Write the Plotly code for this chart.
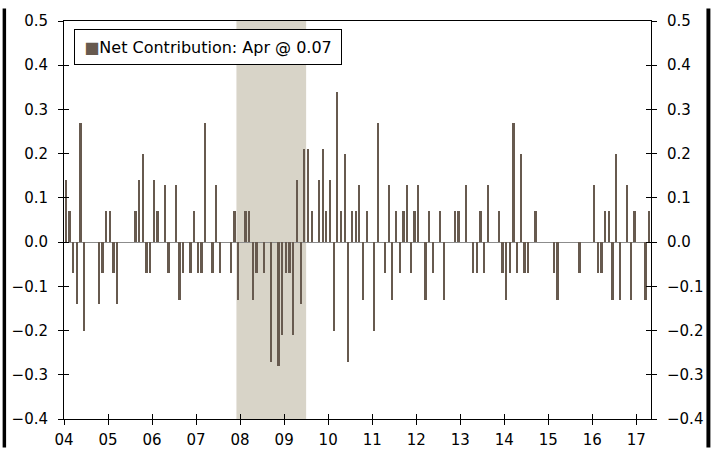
import plotly.graph_objects as go

# Monthly net contribution values, Jan 2004 .. Apr 2017 (one list per year)
v2004 = [0.14, 0.07, -0.07, -0.14, 0.27, -0.20, 0, 0, 0, -0.14, -0.07, 0.07]
v2005 = [0.07, -0.07, -0.14, 0, 0, 0, 0, 0.07, 0.14, 0.20, -0.07, -0.07]
v2006 = [0.14, 0.07, 0, 0.13, -0.07, 0, 0.13, -0.13, -0.07, 0, -0.07, 0.07]
v2007 = [-0.07, -0.07, 0.27, 0, -0.07, 0.13, -0.07, 0, 0, -0.07, 0.07, -0.13]
v2008 = [0, 0.07, 0.07, -0.13, -0.07, 0, -0.07, 0, -0.27, 0, -0.28, -0.21]
v2009 = [-0.07, -0.07, -0.21, 0.14, -0.14, 0.21, 0.21, 0.07, 0, 0.14, 0.21, 0.07]
v2010 = [0.14, -0.20, 0.34, 0.07, 0.20, -0.27, 0.07, 0.07, 0.13, -0.13, 0.07, 0]
v2011 = [-0.20, 0.27, 0, -0.07, 0.13, -0.13, 0.07, -0.07, 0.07, 0.13, -0.07, 0.07]
v2012 = [0.13, 0, -0.13, 0.07, -0.07, 0, 0.07, -0.13, 0, 0, 0.07, 0.07]
v2013 = [0, 0.13, 0, -0.07, -0.07, 0.07, -0.07, 0.13, 0, 0, 0.07, -0.07]
v2014 = [-0.13, -0.07, 0.27, -0.07, 0.20, -0.07, -0.07, 0, 0.07, 0, 0, 0]
v2015 = [0, -0.07, -0.13, 0, 0, 0, 0, 0, -0.07, 0, 0, 0]
v2016 = [0.13, -0.07, -0.07, 0.07, 0.07, -0.13, 0.20, -0.13, 0, 0.13, -0.13, 0.07]
v2017 = [0, 0, -0.13, 0.07]

year_labels = ["04", "05", "06", "07", "08", "09", "10", "11", "12", "13", "14", "15", "16", "17"]
recession = ((2007, 12), (2009, 6))   # shaded period (first month, last month)
legend_text = "Net Contribution: Apr @ 0.07"

values = (v2004 + v2005 + v2006 + v2007 + v2008 + v2009 + v2010 + v2011 +
          v2012 + v2013 + v2014 + v2015 + v2016 + v2017)
n = len(values)
xpos = [i + 0.5 for i in range(n)]

def midx(y, m):
    return (y - 2004) * 12 + (m - 1)

rec_x0 = midx(*recession[0])
rec_x1 = midx(*recession[1]) + 1

BAR = "#675a4f"
FONT = "DejaVu Sans"
FS = 15
FS_LEG = 16

W, H = 715, 461
ML, MR, MT, MB = 62, 60, 13, 30
PW, PH = W - ML - MR, H - MT - MB

fig = go.Figure()
fig.add_bar(x=xpos, y=values, width=0.62, marker_color=BAR, marker_line_width=0,
            name=legend_text, showlegend=False)
# helper empty traces so the overlay axes (crossing tick marks) are drawn
for ya in ["y2", "y3", "y4"]:
    fig.add_scatter(x=[None], y=[None], yaxis=ya, showlegend=False, hoverinfo="skip")
fig.add_scatter(x=[None], y=[None], xaxis="x2", showlegend=False, hoverinfo="skip")

tickvals_x = [12 * k for k in range(len(year_labels))]
common_y = dict(range=[-0.4, 0.5], dtick=0.1, tick0=0, tickformat=".1f", showgrid=False,
                tickcolor="black", ticklen=5, tickwidth=1,
                tickfont=dict(family=FONT, size=FS, color="black"))

fig.update_layout(
    width=W, height=H,
    margin=dict(l=ML, r=MR, t=MT, b=MB, pad=0),
    paper_bgcolor="white", plot_bgcolor="white",
    font=dict(family=FONT, size=FS, color="black"),
    showlegend=False,
    bargap=0,
    xaxis=dict(range=[0, n], tickvals=tickvals_x, ticktext=year_labels,
               ticks="outside", ticklen=5, tickcolor="black", showgrid=False,
               zeroline=False, showline=True, linecolor="black", linewidth=1,
               mirror=True, ticklabelstandoff=2,
               tickfont=dict(family=FONT, size=FS, color="black")),
    xaxis2=dict(overlaying="x", matches="x", anchor="y", side="bottom",
                tickvals=tickvals_x, ticks="inside", ticklen=5, tickcolor="black",
                showticklabels=False, showgrid=False, zeroline=False, showline=False),
    yaxis=dict(**common_y, ticks="outside", showline=True, linecolor="black",
               zeroline=True, zerolinecolor="#8c8c8c", zerolinewidth=1,
               ticklabelstandoff=7),
    yaxis2=dict(**common_y, overlaying="y", matches="y", side="right", anchor="x",
                ticks="outside", showline=True, linecolor="black", zeroline=False,
                ticklabelstandoff=7),
    yaxis3=dict(**common_y, overlaying="y", matches="y", side="left", anchor="x",
                ticks="inside", showticklabels=False, showline=False, zeroline=False),
    yaxis4=dict(**common_y, overlaying="y", matches="y", side="right", anchor="x",
                ticks="inside", showticklabels=False, showline=False, zeroline=False),
    shapes=[
        dict(type="rect", xref="x", yref="paper", x0=rec_x0, x1=rec_x1, y0=0, y1=1,
             fillcolor="#d8d4c8", line_width=0, layer="below"),
        dict(type="rect", xref="paper", yref="paper",
             x0=-ML / PW, x1=(3.5 - ML) / PW, y0=-MB / PH, y1=1 + MT / PH,
             fillcolor="black", line_width=0, layer="above"),
        dict(type="rect", xref="paper", yref="paper",
             x0=(711 - ML) / PW, x1=(W - ML) / PW, y0=-MB / PH, y1=1 + MT / PH,
             fillcolor="black", line_width=0, layer="above"),
    ],
    annotations=[
        dict(xref="paper", yref="paper", x=(71.7 - ML) / PW, y=1 - (21.7 - MT) / PH,
             xanchor="left", yanchor="top", showarrow=False,
             text=f"<span style='color:{BAR}'>■</span>{legend_text}",
             font=dict(family=FONT, size=FS_LEG, color="black"),
             bgcolor="white", bordercolor="black", borderwidth=1, borderpad=1,
             width=264, height=32, align="center", valign="middle"),
    ],
)

fig.write_html("out.html", config={"displayModeBar": False},
               post_script="document.body.style.margin='0';document.body.style.overflow='hidden';")
